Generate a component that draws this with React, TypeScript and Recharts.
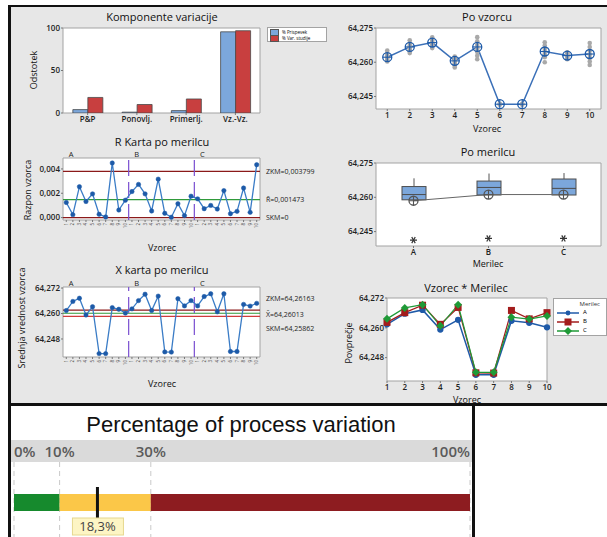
import React from "react";
import {
  BarChart,
  Bar,
  ComposedChart,
  LineChart,
  Line,
  Scatter,
  XAxis,
  YAxis,
  CartesianGrid,
  ReferenceLine,
  ReferenceDot,
} from "recharts";

// ---- Komponente variacije
const components = ["P&P", "Ponovlj.", "Primerlj.", "Vz.-Vz."];
const contributionPct = [4.0, 1.0, 2.8, 95.5];
const studyVarPct = [18.3, 10.0, 16.5, 96.8];

// ---- Po vzorcu
const parts = [1, 2, 3, 4, 5, 6, 7, 8, 9, 10];
const partMeans = [64.2622, 64.2667, 64.2686, 64.2606, 64.2667, 64.2416, 64.2416, 64.2647, 64.2629, 64.2636];
const partReadings = [
  [64.2603, 64.2608, 64.2615, 64.2622, 64.263, 64.264, 64.2651],
  [64.264, 64.2648, 64.2655, 64.2664, 64.2672, 64.2683, 64.2696],
  [64.2662, 64.267, 64.2678, 64.2686, 64.2694, 64.2702, 64.2709],
  [64.2577, 64.2585, 64.2595, 64.2604, 64.2612, 64.262, 64.2625],
  [64.2613, 64.2628, 64.2645, 64.266, 64.2675, 64.2692, 64.271],
  [64.2414, 64.2418],
  [64.2414, 64.2418],
  [64.26, 64.2622, 64.2635, 64.2648, 64.266, 64.2673, 64.2687],
  [64.2613, 64.262, 64.2627, 64.2633, 64.2638, 64.2643],
  [64.2588, 64.2603, 64.2618, 64.2634, 64.265, 64.2667, 64.2684],
];

// ---- R karta / X karta / Vzorec * Merilec
const operators = ["A", "B", "C"];
const rangeA = [0.00124, 0.00024, 0.00254, 0.00132, 0.00195, 0.00027, 0.00005, 0.00449, 0.00062, 0.00143];
const rangeB = [0.00214, 0.00273, 0.00195, 0.00054, 0.00316, 0.00035, 0.00003, 0.00114, 0.00016, 0.00176];
const rangeC = [0.00154, 0.00073, 0.001, 0.0007, 0.00222, 0.00032, 0.00051, 0.00243, 0.00043, 0.00435];
const rLimits = { ucl: 0.003799, center: 0.001473, lcl: 0 };

const meanA = [64.2614, 64.2657, 64.2672, 64.2593, 64.2632, 64.2411, 64.2411, 64.2628, 64.262, 64.2602];
const meanB = [64.2622, 64.2661, 64.2691, 64.2614, 64.2682, 64.2419, 64.2418, 64.267, 64.2636, 64.2661];
const meanC = [64.2636, 64.268, 64.2693, 64.2608, 64.2693, 64.2421, 64.2421, 64.2643, 64.2635, 64.2648];
const xLimits = { ucl: 64.26163, center: 64.26013, lcl: 64.25862 };

// ---- Po merilcu
const boxQ1 = [64.2589, 64.261, 64.261];
const boxMedian = [64.2612, 64.2643, 64.2639];
const boxQ3 = [64.2647, 64.2671, 64.268];
const whiskerHigh = [64.2683, 64.2704, 64.2706];
const whiskerLow = [64.2589, 64.261, 64.261];
const operatorMeans = [64.2585, 64.2612, 64.2612];
const operatorOutliers = [64.2413, 64.242, 64.242];

// ---- Percentage of process variation
const zoneKeys = ["good", "marginal", "poor"];
const zoneSizes = [10, 20, 70];
const percentTicks = [0, 10, 30, 100];
const gageStudyVar = 18.3;

const FONT = "'Open Sans', 'Noto Sans', sans-serif";
const tickStyle = { fontSize: 8, fill: "#222", fontWeight: 600 };
const comma = (v: number, d: number) => v.toFixed(d).replace(".", ",");
const zoneColors: Record<string, string> = { good: "#168a2d", marginal: "#fbc748", poor: "#8d1c20" };
const opColors: Record<string, string> = { A: "#1f5aa8", B: "#a31c1c", C: "#1f9a37" };

const componentData = components.map((name, i) => ({ name, contribution: contributionPct[i], studyVar: studyVarPct[i] }));
const partMeanData = parts.map((part, i) => ({ part, mean: partMeans[i] }));
const partDotData = partReadings.flatMap((vals, i) => vals.map((value) => ({ part: parts[i], value })));
const rData = [...rangeA, ...rangeB, ...rangeC].map((range, i) => ({ idx: i + 1, range }));
const xData = [...meanA, ...meanB, ...meanC].map((mean, i) => ({ idx: i + 1, mean }));
const idxTicks = rData.map((d) => d.idx);
const boxData = operators.map((op, i) => ({
  op,
  box: [boxQ1[i], boxQ3[i]],
  q1: boxQ1[i],
  q3: boxQ3[i],
  median: boxMedian[i],
  hi: whiskerHigh[i],
  lo: whiskerLow[i],
  mean: operatorMeans[i],
  outlier: operatorOutliers[i],
}));
const interactionData = parts.map((part, i) => ({ part, A: meanA[i], B: meanB[i], C: meanC[i] }));
const zoneData = [Object.fromEntries([["name", "variation"], ...zoneKeys.map((k, i) => [k, zoneSizes[i]])])];

// plot frame drawn by the grid at the plot edges
const frame = () => (
  <CartesianGrid
    fill="#ffffff"
    stroke="#a3a3a3"
    horizontalCoordinatesGenerator={({ offset }: any) => [offset.top, offset.top + offset.height]}
    verticalCoordinatesGenerator={({ offset }: any) => [offset.left, offset.left + offset.width]}
  />
);

const CrossCircle = ({ cx, cy, color }: any) => {
  if (cx == null || cy == null) return null;
  const r = 4.5;
  return (
    <g>
      <circle cx={cx} cy={cy} r={r} fill="none" stroke={color} strokeWidth={1.3} />
      <line x1={cx - r} y1={cy} x2={cx + r} y2={cy} stroke={color} strokeWidth={1.1} />
      <line x1={cx} y1={cy - r} x2={cx} y2={cy + r} stroke={color} strokeWidth={1.1} />
    </g>
  );
};

const Asterisk = ({ cx, cy }: any) => {
  if (cx == null || cy == null) return null;
  const r = 3.5;
  return (
    <g stroke="#333" strokeWidth={1.2}>
      <line x1={cx - r} y1={cy} x2={cx + r} y2={cy} />
      <line x1={cx - r * 0.5} y1={cy - r * 0.87} x2={cx + r * 0.5} y2={cy + r * 0.87} />
      <line x1={cx - r * 0.5} y1={cy + r * 0.87} x2={cx + r * 0.5} y2={cy - r * 0.87} />
    </g>
  );
};

const BoxShape = (props: any) => {
  const { x, y, width, height } = props;
  const d = props.payload ?? props;
  const top = Math.min(y, y + height);
  const h = Math.abs(height);
  const k = h / (d.q3 - d.q1);
  const py = (v: number) => top + (d.q3 - v) * k;
  const cx = x + width / 2;
  return (
    <g>
      <line x1={cx} x2={cx} y1={py(d.hi)} y2={top} stroke="#555" />
      <line x1={cx} x2={cx} y1={top + h} y2={py(d.lo)} stroke="#555" />
      <rect x={x} y={top} width={width} height={h} fill="#7ca7db" stroke="#4d4d4d" />
      <line x1={x} x2={x + width} y1={py(d.median)} y2={py(d.median)} stroke="#4d4d4d" />
    </g>
  );
};

const TinyTick = ({ x, y, payload }: any) => (
  <text x={x} y={y} transform={`rotate(-90 ${x} ${y})`} textAnchor="end" dy={1.5} fontSize={4.5} fill="#444">
    {((payload.value - 1) % parts.length) + 1}
  </text>
);

const PctTick = ({ x, y, payload }: any) => {
  const v = payload.value;
  const anchor = v === percentTicks[0] ? "start" : v === percentTicks[percentTicks.length - 1] ? "end" : "middle";
  return (
    <text x={x} y={y} dy={-3} textAnchor={anchor} fontSize={15} fill="#5b5b5b" fontWeight={600}>
      {v}%
    </text>
  );
};

const MarkerShape = ({ cx, cy }: any) => (
  <g>
    <line x1={cx} y1={cy - 15.5} x2={cx} y2={cy + 16} stroke="#111" strokeWidth={3} />
    <rect x={cx - 25} y={cy + 15.5} width={51} height={17} fill="#fdf5c4" stroke="#e6d88f" />
    <text x={cx} y={cy + 28.5} textAnchor="middle" fontSize={13} fill="#444">
      {comma(gageStudyVar, 1)}%
    </text>
  </g>
);

const sideLabel = (text: string, dy = 0) => (p: any) => {
  const vb = p.viewBox;
  return (
    <text x={vb.x + vb.width + 6} y={vb.y + dy} dy={2.5} fontSize={7} fill="#222">
      {text}
    </text>
  );
};

const opLabel = (text: string) => (p: any) => {
  const vb = p.viewBox;
  return (
    <text x={vb.x + 8} y={vb.y - 1.5} textAnchor="middle" fontSize={7.5} fill="#222">
      {text}
    </text>
  );
};

const Title = ({ x, y, size = 11, children }: any) => (
  <div
    style={{
      position: "absolute",
      left: x,
      top: y,
      transform: "translate(-50%, -50%)",
      fontSize: size,
      whiteSpace: "nowrap",
      color: "#111",
      lineHeight: 1,
    }}
  >
    {children}
  </div>
);

const VLabel = ({ x, y, children }: any) => (
  <div
    style={{
      position: "absolute",
      left: x,
      top: y,
      transform: "translate(-50%, -50%) rotate(-90deg)",
      fontSize: 9,
      whiteSpace: "nowrap",
      color: "#111",
      lineHeight: 1,
    }}
  >
    {children}
  </div>
);

const axisCommon = { axisLine: false, tickLine: { stroke: "#777" }, tickSize: 2, tickMargin: 1, tick: tickStyle };

const App = () => {
  return (
    <div style={{ position: "relative", width: 607, height: 537, overflow: "hidden", fontFamily: FONT, background: "#fff" }}>
      <style>{"body{margin:0}"}</style>

      {/* panels */}
      <div
        style={{
          position: "absolute",
          left: 8,
          top: 5,
          width: 599,
          height: 401,
          background: "#e7e7e7",
          borderTop: "2px solid #111",
          borderLeft: "3px solid #111",
          borderBottom: "3px solid #111",
          boxSizing: "border-box",
        }}
      />
      <div
        style={{
          position: "absolute",
          left: 8,
          top: 406,
          width: 467,
          height: 131,
          background: "#fff",
          borderLeft: "3px solid #111",
          borderRight: "3px solid #111",
          boxSizing: "border-box",
        }}
      />

      {/* Komponente variacije */}
      <Title x={162} y={16}>Komponente variacije</Title>
      <VLabel x={33} y={70}>Odstotek</VLabel>
      <div style={{ position: "absolute", left: 10, top: 8 }}>
        <BarChart width={320} height={122} data={componentData} margin={{ top: 20, right: 70, left: 23, bottom: 3 }} barCategoryGap="20%" barGap={0}>
          {frame()}
          <XAxis dataKey="name" height={14} interval={0} {...axisCommon} />
          <YAxis domain={[0, 100]} ticks={[0, 50, 100]} width={30} allowDataOverflow {...axisCommon} />
          <Bar dataKey="contribution" fill="#7ca7db" stroke="#4a4a4a" strokeWidth={0.8} isAnimationActive={false} />
          <Bar dataKey="studyVar" fill="#c83f3f" stroke="#4a4a4a" strokeWidth={0.8} isAnimationActive={false} />
        </BarChart>
      </div>
      <div
        style={{
          position: "absolute",
          left: 267,
          top: 27,
          width: 60,
          height: 15,
          background: "#fff",
          border: "1px solid #a3a3a3",
          boxSizing: "border-box",
          fontSize: 4.5,
          padding: "1px 2px",
          lineHeight: "6px",
        }}
      >
        {[["#7ca7db", "% Prispevek"], ["#c83f3f", "% Var. studije"]].map(([c, t]) => (
          <div key={t} style={{ display: "flex", alignItems: "center", height: 6 }}>
            <span style={{ width: 7, height: 5, background: c, border: "0.5px solid #555", marginRight: 3, display: "inline-block" }} />
            {t}
          </div>
        ))}
      </div>

      {/* Po vzorcu */}
      <Title x={487} y={16}>Po vzorcu</Title>
      <Title x={487} y={128} size={9}>Vzorec</Title>
      <div style={{ position: "absolute", left: 330, top: 8 }}>
        <ComposedChart width={277} height={122} margin={{ top: 20, right: 6, left: 8, bottom: 7 }}>
          {frame()}
          <XAxis type="number" dataKey="part" domain={[0.5, 10.5]} ticks={parts} interval={0} height={14} allowDataOverflow {...axisCommon} />
          <YAxis type="number" domain={[64.2395, 64.275]} ticks={[64.245, 64.26, 64.275]} tickFormatter={(v) => comma(v, 3)} width={38} allowDataOverflow {...axisCommon} />
          <Scatter
            data={partDotData}
            dataKey="value"
            isAnimationActive={false}
            shape={(p: any) => <circle cx={p.cx} cy={p.cy} r={2.3} fill="#a9a9a9" />}
          />
          <Line
            data={partMeanData}
            dataKey="mean"
            stroke="#3b70b8"
            strokeWidth={1.5}
            isAnimationActive={false}
            activeDot={false}
            dot={(p: any) => <CrossCircle key={`pm${p.index}`} cx={p.cx} cy={p.cy} color="#1d5aa8" />}
          />
        </ComposedChart>
      </div>

      {/* R Karta po merilcu */}
      <Title x={162} y={141}>R Karta po merilcu</Title>
      <VLabel x={27} y={190}>Razpon vzorca</VLabel>
      <Title x={162} y={247} size={9}>Vzorec</Title>
      <div style={{ position: "absolute", left: 10, top: 140 }}>
        <LineChart width={320} height={96} data={rData} margin={{ top: 18, right: 70, left: 23, bottom: 2 }}>
          {frame()}
          <XAxis type="number" dataKey="idx" domain={[0.5, 30.5]} ticks={idxTicks} interval={0} height={14} allowDataOverflow {...axisCommon} tick={<TinyTick />} />
          <YAxis type="number" domain={[-0.0002, 0.0049]} ticks={[0, 0.002, 0.004]} tickFormatter={(v) => comma(v, 3)} width={30} allowDataOverflow {...axisCommon} />
          <ReferenceLine y={rLimits.ucl} stroke="#8b1a1a" strokeWidth={1.2} label={sideLabel(`ZKM=${comma(rLimits.ucl, 6)}`)} />
          <ReferenceLine y={rLimits.center} stroke="#2f9a3a" strokeWidth={1.2} label={sideLabel(`R\u0304=${comma(rLimits.center, 6)}`)} />
          <ReferenceLine y={rLimits.lcl} stroke="#8b1a1a" strokeWidth={1.2} label={sideLabel(`SKM=${rLimits.lcl}`)} />
          <ReferenceLine x={0.5} stroke="none" label={opLabel(operators[0])} />
          <ReferenceLine x={10.5} stroke="#7a4fd0" strokeWidth={1.2} strokeDasharray="16 6" label={opLabel(operators[1])} />
          <ReferenceLine x={20.5} stroke="#7a4fd0" strokeWidth={1.2} strokeDasharray="16 6" label={opLabel(operators[2])} />
          <Line
            dataKey="range"
            stroke="#3a7cc6"
            strokeWidth={1.3}
            isAnimationActive={false}
            activeDot={false}
            dot={{ r: 2.2, fill: "#1d5aa8", stroke: "#1d5aa8", strokeWidth: 0.5 }}
          />
        </LineChart>
      </div>

      {/* Po merilcu */}
      <Title x={488} y={151}>Po merilcu</Title>
      <Title x={488} y={263} size={9}>Merilec</Title>
      <div style={{ position: "absolute", left: 330, top: 150 }}>
        <ComposedChart width={277} height={110} data={boxData} margin={{ top: 13, right: 6, left: 8, bottom: 0 }}>
          {frame()}
          <XAxis dataKey="op" height={14} {...axisCommon} />
          <YAxis type="number" domain={[64.2387, 64.275]} ticks={[64.245, 64.26, 64.275]} tickFormatter={(v) => comma(v, 3)} width={38} allowDataOverflow {...axisCommon} />
          <Bar dataKey="box" barSize={24} shape={BoxShape} isAnimationActive={false} />
          <Line
            dataKey="mean"
            stroke="#666"
            strokeWidth={1}
            isAnimationActive={false}
            activeDot={false}
            dot={(p: any) => <CrossCircle key={`om${p.index}`} cx={p.cx} cy={p.cy} color="#555" />}
          />
          <Line
            dataKey="outlier"
            stroke="none"
            isAnimationActive={false}
            activeDot={false}
            dot={(p: any) => <Asterisk key={`ol${p.index}`} cx={p.cx} cy={p.cy} />}
          />
        </ComposedChart>
      </div>

      {/* X karta po merilcu */}
      <Title x={162} y={269}>X karta po merilcu</Title>
      <VLabel x={21} y={318}>Srednja vrednost vzorca</VLabel>
      <Title x={162} y={383} size={9}>Vzorec</Title>
      <div style={{ position: "absolute", left: 10, top: 274 }}>
        <LineChart width={320} height={98} data={xData} margin={{ top: 13, right: 70, left: 23, bottom: 1 }}>
          {frame()}
          <XAxis type="number" dataKey="idx" domain={[0.5, 30.5]} ticks={idxTicks} interval={0} height={14} allowDataOverflow {...axisCommon} tick={<TinyTick />} />
          <YAxis type="number" domain={[64.2395, 64.2725]} ticks={[64.248, 64.26, 64.272]} tickFormatter={(v) => comma(v, 3)} width={30} allowDataOverflow {...axisCommon} />
          <ReferenceLine y={xLimits.ucl} stroke="#8b1a1a" strokeWidth={1.2} label={sideLabel(`ZKM=${comma(xLimits.ucl, 5)}`, -12)} />
          <ReferenceLine y={xLimits.center} stroke="#2f9a3a" strokeWidth={1.2} label={sideLabel(`X\u0304=${comma(xLimits.center, 5)}`, 1)} />
          <ReferenceLine y={xLimits.lcl} stroke="#d03b3b" strokeWidth={1.2} label={sideLabel(`SKM=${comma(xLimits.lcl, 5)}`, 12)} />
          <ReferenceLine x={0.5} stroke="none" label={opLabel(operators[0])} />
          <ReferenceLine x={10.5} stroke="#7a4fd0" strokeWidth={1.2} strokeDasharray="16 6" label={opLabel(operators[1])} />
          <ReferenceLine x={20.5} stroke="#7a4fd0" strokeWidth={1.2} strokeDasharray="16 6" label={opLabel(operators[2])} />
          <Line
            dataKey="mean"
            stroke="#3a7cc6"
            strokeWidth={1.3}
            isAnimationActive={false}
            activeDot={false}
            dot={{ r: 2.2, fill: "#1d5aa8", stroke: "#1d5aa8", strokeWidth: 0.5 }}
          />
        </LineChart>
      </div>

      {/* Vzorec * Merilec */}
      <Title x={466} y={287}>Vzorec * Merilec</Title>
      <VLabel x={348} y={343}>Povprečje</VLabel>
      <Title x={467} y={399} size={9}>Vzorec</Title>
      <div style={{ position: "absolute", left: 330, top: 290 }}>
        <LineChart width={277} height={105} data={interactionData} margin={{ top: 8, right: 60, left: 19, bottom: 0 }}>
          {frame()}
          <XAxis dataKey="part" height={14} interval={0} {...axisCommon} />
          <YAxis type="number" domain={[64.2386, 64.272]} ticks={[64.248, 64.26, 64.272]} tickFormatter={(v) => comma(v, 3)} width={38} allowDataOverflow {...axisCommon} />
          <Line
            dataKey="A"
            stroke={opColors.A}
            strokeWidth={1.5}
            isAnimationActive={false}
            activeDot={false}
            dot={{ r: 2.4, fill: opColors.A, stroke: opColors.A }}
          />
          <Line
            dataKey="B"
            stroke={opColors.B}
            strokeWidth={1.2}
            isAnimationActive={false}
            activeDot={false}
            dot={(p: any) =>
              p.cx == null ? null : <rect key={`b${p.index}`} x={p.cx - 3.5} y={p.cy - 3.5} width={7} height={7} fill={opColors.B} />
            }
          />
          <Line
            dataKey="C"
            stroke={opColors.C}
            strokeWidth={1.2}
            isAnimationActive={false}
            activeDot={false}
            dot={(p: any) =>
              p.cx == null ? null : (
                <path
                  key={`c${p.index}`}
                  d={`M${p.cx},${p.cy - 4}L${p.cx + 4},${p.cy}L${p.cx},${p.cy + 4}L${p.cx - 4},${p.cy}Z`}
                  fill={opColors.C}
                />
              )
            }
          />
        </LineChart>
      </div>
      <div
        style={{
          position: "absolute",
          left: 553,
          top: 298,
          width: 54,
          height: 38,
          background: "#fff",
          border: "1px solid #a3a3a3",
          boxSizing: "border-box",
          fontSize: 6,
          lineHeight: "7px",
          padding: "2px 0 0 3px",
        }}
      >
        <div style={{ textAlign: "right", paddingRight: 6, color: "#333" }}>Merilec</div>
        {operators.map((op) => (
          <div key={op} style={{ display: "flex", alignItems: "center", height: 9 }}>
            <svg width={22} height={8} style={{ marginRight: 4 }}>
              <line x1={0} y1={4} x2={22} y2={4} stroke={opColors[op]} strokeWidth={1.5} />
              {op === "A" && <circle cx={11} cy={4} r={2.4} fill={opColors.A} />}
              {op === "B" && <rect x={7.5} y={0.5} width={7} height={7} fill={opColors.B} />}
              {op === "C" && <path d="M11,0L15,4L11,8L7,4Z" fill={opColors.C} />}
            </svg>
            {op}
          </div>
        ))}
      </div>

      {/* Percentage of process variation */}
      <div
        style={{
          position: "absolute",
          left: 241,
          top: 425,
          transform: "translate(-50%, -50%)",
          fontFamily: "'Liberation Sans', Arial, sans-serif",
          fontSize: 22,
          whiteSpace: "nowrap",
          color: "#111",
        }}
      >
        Percentage of process variation
      </div>
      <div style={{ position: "absolute", left: 11, top: 440, width: 461, height: 22, background: "#dadada" }} />
      <div style={{ position: "absolute", left: 11, top: 440 }}>
        <BarChart layout="vertical" width={461} height={97} data={zoneData} margin={{ top: 0, right: 2, left: 3, bottom: -6 }}>
          <CartesianGrid horizontal={false} stroke="#c9c9c9" strokeDasharray="5 4" />
          <XAxis
            type="number"
            orientation="top"
            domain={[0, 100]}
            ticks={percentTicks}
            interval={0}
            height={22}
            axisLine={false}
            tickLine={false}
            tickSize={0}
            tickMargin={2}
            tick={<PctTick />}
          />
          <YAxis type="category" dataKey="name" hide />
          {zoneKeys.map((k) => (
            <Bar key={k} dataKey={k} stackId="z" fill={zoneColors[k]} barSize={17} isAnimationActive={false} />
          ))}
          <ReferenceDot x={gageStudyVar} y="variation" ifOverflow="visible" shape={MarkerShape} />
        </BarChart>
      </div>
    </div>
  );
};

export default App;
